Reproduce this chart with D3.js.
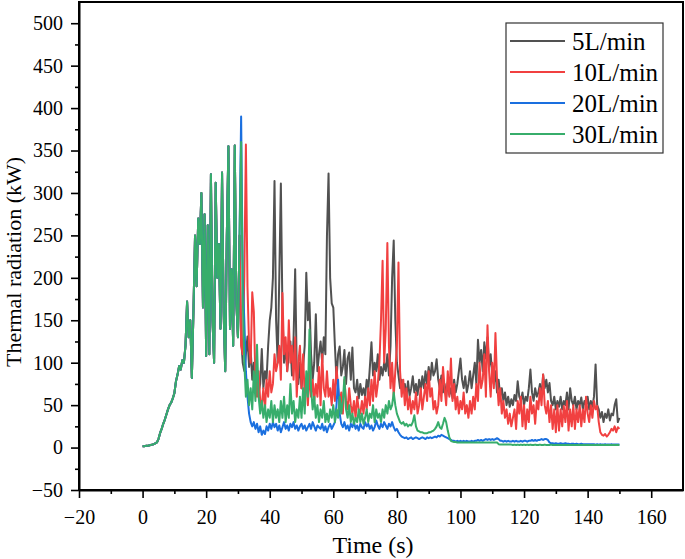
<!DOCTYPE html>
<html><head><meta charset="utf-8">
<script src="https://cdn.jsdelivr.net/npm/d3@7"></script>
<style>body{margin:0;background:#fff} svg text{font-family:'Liberation Serif','Times New Roman',serif !important;}</style>
</head><body><svg id="c" width="685" height="559"></svg>
<script>
// ---------------- DATA ----------------
const timeStep = 0.5;           // s between samples
const sharedStart = 0;          // s, common fire growth (before mist)
const sharedValues = [
  1.5,1.5,2,2,2.5,3,3.5,4,5,6,
  10,17,22,28,33,39,45,50,53,58,
  64,78,86,96,92,103,100,120,172,130,
  150,82,160,250,190,270,240,300,165,275,
  108,262,110,322,150,100,312,200,240,140,
  324,160,90,250,355,140,210,120,356,170,
  130,250
];
const splitStart = 31;          // s, series diverge after this time
const flow5 = [
  130,100,90,110,131,95,115,80,100,70,
  85,65,75,116,70,90,80,120,150,165,
  200,314,150,100,200,311,160,100,120,90,
  110,125,85,130,210,90,75,100,70,95,
  120,206,150,171,110,80,100,157,90,110,
  125,100,130,110,250,323,200,170,165,120,
  80,110,119,85,95,115,75,105,112,80,
  118,70,65,80,58,75,62,70,60,80,
  68,95,124,85,100,90,110,80,95,85,
  100,90,110,85,120,200,244,150,100,85,
  70,80,65,75,60,78,61,70,84,65,
  75,62,80,68,84,70,90,75,95,80,
  100,85,90,104,80,70,85,65,75,60,
  77,62,70,58,80,65,75,90,105,80,
  70,84,65,75,90,70,85,100,75,127,
  100,115,90,124,105,130,95,110,85,75,
  90,65,80,60,70,55,65,50,60,48,
  57,50,62,55,78,60,55,65,50,60,
  55,70,92,65,55,70,60,65,75,60,
  86,70,80,65,76,55,50,60,45,55,
  48,60,45,55,50,65,45,70,55,50,
  60,45,55,50,59,45,55,50,60,45,
  55,48,60,98,50,45,35,42,30,40,
  35,45,32,40,38,50,57,30,35
];
const flow10 = [
  120,110,200,357,190,120,100,183,160,80,
  60,90,55,50,70,45,80,60,90,65,
  75,110,90,100,120,80,182,110,130,90,
  150,100,120,80,130,60,100,120,70,110,
  60,80,50,90,60,80,55,75,60,95,
  50,110,70,60,90,60,70,50,80,55,
  95,70,50,65,40,80,55,45,70,50,
  40,55,35,60,45,40,55,40,60,45,
  70,50,80,55,90,60,75,100,150,220,
  100,140,241,120,70,100,60,90,120,218,
  90,60,80,50,70,45,60,40,55,45,
  65,40,50,70,45,60,75,55,90,60,
  70,45,55,40,50,80,55,95,70,50,
  90,60,105,55,75,45,60,40,55,45,
  65,40,50,35,55,40,60,45,75,55,
  100,70,80,110,60,144,90,60,100,70,
  135,80,50,70,40,55,35,45,28,40,
  25,35,45,22,55,40,60,25,50,22,
  45,30,60,40,50,28,55,45,70,50,
  86,50,40,55,30,50,22,45,18,50,
  20,45,25,49,30,55,20,45,25,50,
  22,45,30,50,25,45,30,60,40,30,
  50,35,55,45,49,30,18,15,14,16,
  13,15,18,22,20,25,18,24,22
];
const flow20 = [
  390,200,150,90,60,40,30,25,30,22,
  28,18,25,15,20,16,25,20,28,22,
  30,24,28,20,26,18,24,30,22,26,
  20,28,24,30,22,26,20,25,28,22,
  26,20,24,28,22,30,25,20,26,24,
  22,28,20,25,18,24,28,22,26,30,
  50,80,40,28,24,30,22,26,20,28,
  24,30,22,26,20,28,24,22,30,25,
  28,22,26,20,24,32,26,22,28,24,
  30,26,22,28,25,30,24,20,22,18,
  15,13,12,11,12,10,11,12,10,11,
  12,11,10,11,12,11,10,12,11,12,
  11,12,13,12,14,13,15,14,13,12,
  11,10,9,8,8,7,8,7,8,7,
  8,7,8,7,7,8,7,8,8,9,
  8,9,8,9,10,9,10,9,10,9,
  10,11,10,8,8,7,8,7,8,7,
  7,8,7,8,7,7,8,7,8,8,
  7,8,8,9,8,9,8,9,9,10,
  9,10,10,9,6,5,5,4.5,5,4.5,
  4.5,5,4.5,4.5,5,4.5,4.5,4,4.5,4.5,
  4,4.5,4,4,4.5,4,4,4,4,4,
  4,4,4,3.5,4,3.5,4,3.5,3.5,4,
  3.5,3.5,3.5,4,3.5,3.5,3.5,3.5,3.5
];
const flow30 = [
  360,180,100,60,80,50,70,45,90,55,
  121,60,40,55,35,50,30,45,35,55,
  30,50,35,45,30,55,35,60,30,50,
  35,75,40,55,30,45,35,60,35,70,
  40,90,60,139,70,45,60,35,50,30,
  45,35,55,30,40,30,45,35,50,30,
  45,35,60,40,55,83,45,35,50,30,
  40,28,35,30,45,30,40,28,35,45,
  30,40,35,50,30,45,35,40,30,45,
  35,50,40,55,45,50,65,50,40,35,
  30,28,30,26,28,25,27,26,30,38,
  25,20,19,18,18,17,17,17,18,18,
  19,20,22,25,30,24,22,28,35,30,
  20,12,8,7,6.5,6.5,6,6,6,6,
  6,6,6,6,6,6,6,6,6,6,
  6,6,6,6,6,6,6,6,6,6,
  6,6,4,3.5,3.5,3.5,3.5,3.5,3.5,3.5,
  3.5,3,3.5,3,3.5,3,3.5,3,3.5,3,
  3.5,3,3.5,3,3,3.5,3,3,3.5,3,
  3,3.5,3,3,3,3.5,3,3,3,3,
  3,3,3,3,3,3,3,3,3,3,
  3,3,3,3,3,3,3,3,3,3,
  3,3,3,3,3,3,3,3,3,3,
  3,3,3,3,3,3,3,3,3
];
const seriesNames = ["5L/min","10L/min","20L/min","30L/min"];
const seriesValues = [flow5, flow10, flow20, flow30];
const xTicks = [-20,0,20,40,60,80,100,120,140,160];
const yTicks = [-50,0,50,100,150,200,250,300,350,400,450,500];
const xLabel = "Time (s)";
const yLabel = "Thermal radiation (kW)";

// ---------------- STYLE / LAYOUT ----------------
const colors = ["#515151","#F14040","#1A6FDF","#37AD6B"];
const FONT = "'Liberation Serif','Times New Roman',serif";
const plot = {left: 79, right: 683, top: 2, bottom: 490};

const svg = d3.select("#c");
const x = d3.scaleLinear().domain([-20,170]).range([plot.left, plot.right]);
const y = d3.scaleLinear().domain([-50,525]).range([plot.bottom, plot.top]);

function buildSeries(vals) {
  const pts = sharedValues.map((v,i)=>({t: sharedStart + i*timeStep, v}));
  vals.forEach((v,i)=>pts.push({t: splitStart + i*timeStep, v}));
  return pts;
}

svg.append("clipPath").attr("id","clip").append("rect")
  .attr("x",plot.left).attr("y",plot.top)
  .attr("width",plot.right-plot.left).attr("height",plot.bottom-plot.top);

const line = d3.line().x(d=>x(d.t)).y(d=>y(d.v));
const gLines = svg.append("g").attr("clip-path","url(#clip)");
seriesValues.forEach((vals,i)=>{
  gLines.append("path").datum(buildSeries(vals))
    .attr("d", line).attr("fill","none")
    .attr("stroke", colors[i]).attr("stroke-width",2)
    .attr("stroke-linejoin","round");
});

// frame
svg.append("rect").attr("x",plot.left).attr("y",plot.top)
  .attr("width",plot.right-plot.left).attr("height",plot.bottom-plot.top)
  .attr("fill","none").attr("stroke","#000").attr("stroke-width",2);

// minor ticks
const xMinor = xTicks.map(d=>d+10).filter(d=>d<170);
const yMinor = yTicks.map(d=>d+25).filter(d=>d<525);

const gxMinor = svg.append("g").attr("transform",`translate(0,${plot.bottom})`)
  .call(d3.axisBottom(x).tickValues(xMinor).tickSize(4).tickSizeOuter(0).tickFormat(""));
const gyMinor = svg.append("g").attr("transform",`translate(${plot.left},0)`)
  .call(d3.axisLeft(y).tickValues(yMinor).tickSize(4).tickSizeOuter(0).tickFormat(""));
[gxMinor, gyMinor].forEach(g=>{ g.select(".domain").remove(); g.selectAll("line").attr("stroke-width",1.6); });

const gx = svg.append("g").attr("transform",`translate(0,${plot.bottom})`)
  .call(d3.axisBottom(x).tickValues(xTicks).tickSize(8).tickSizeOuter(0).tickPadding(12).tickFormat(d3.format("d")));
const gy = svg.append("g").attr("transform",`translate(${plot.left},0)`)
  .call(d3.axisLeft(y).tickValues(yTicks).tickSize(8).tickSizeOuter(0).tickPadding(8).tickFormat(d3.format("d")));
[gx, gy].forEach(g=>{
  g.attr("font-family",FONT).attr("font-size",20);
  g.select(".domain").attr("stroke-width",2);
  g.selectAll("line").attr("stroke-width",1.6);
  g.selectAll("text").style("font-family",FONT).style("font-size","20px").attr("fill","#000");
});

// axis titles
svg.append("text").attr("x",373).attr("y",553).attr("text-anchor","middle")
  .style("font-family",FONT).style("font-size","24px").text(xLabel);
svg.append("text").attr("transform","translate(21,262) rotate(-90)").attr("text-anchor","middle")
  .style("font-family",FONT).style("font-size","22px").text(yLabel);

// legend
const lg = svg.append("g");
lg.append("rect").attr("x",506).attr("y",23).attr("width",157).attr("height",130)
  .attr("fill","#fff").attr("stroke","#333").attr("stroke-width",1.2);
seriesNames.forEach((name,i)=>{
  const yy = 41 + i*31;
  lg.append("line").attr("x1",510).attr("x2",565).attr("y1",yy).attr("y2",yy)
    .attr("stroke",colors[i]).attr("stroke-width",2);
  lg.append("text").attr("x",572).attr("y",yy+8.5)
    .style("font-family",FONT).style("font-size","25px").text(name);
});
</script></body></html>
